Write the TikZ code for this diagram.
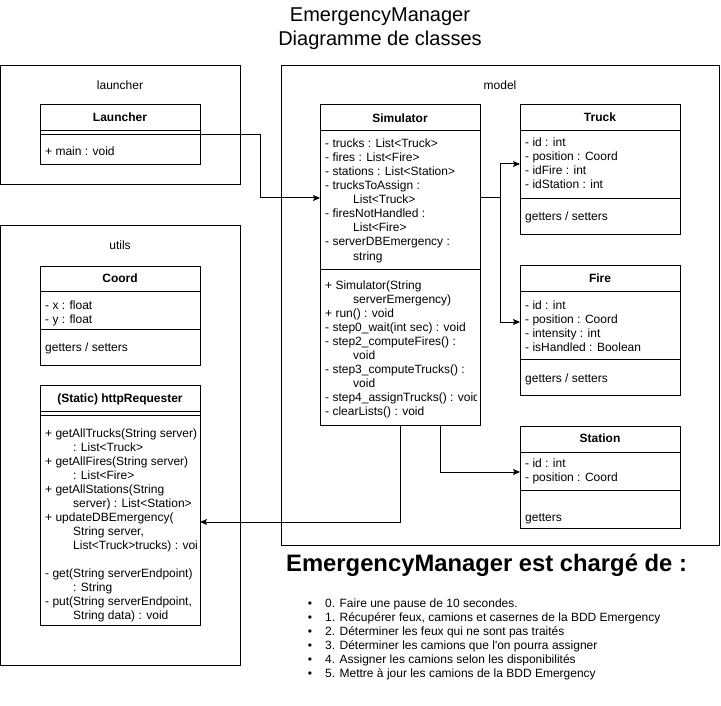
\documentclass[tikz,border=0pt]{standalone}
\usepackage{fontspec}
\setmainfont{Liberation Sans}[Ligatures=TeXOff]
\usetikzlibrary{arrows.meta}
\tikzset{
  pkg/.style={draw, line width=1pt},
  cls/.style={draw, line width=1pt, inner sep=0pt, outer sep=0pt, anchor=north west},
  sep/.style={line width=1pt},
  txt/.style={inner sep=0pt, anchor=base west, font=\fontsize{12pt}{14pt}\selectfont},
  hdr/.style={inner sep=0pt, anchor=base, font=\fontsize{12pt}{14pt}\selectfont\bfseries},
  lbl/.style={inner sep=0pt, anchor=base, font=\fontsize{12pt}{14pt}\selectfont},
  conn/.style={line width=1pt, -{Stealth[length=7pt,width=6pt,inset=1.5pt]}},
}
\newcommand{\clslines}[4]{%
  \foreach \cltxt [count=\i from 0] in {#4} {\node[txt] (#1-\i) at (#2,{#3+14*\i}) {\cltxt};}}
\newcommand{\ind}{\hspace*{28pt}}
\begin{document}
\begin{tikzpicture}[x=1pt,y=-1pt]
\useasboundingbox (0,0) rectangle (721,706);
% title
\node[inner sep=0pt, anchor=base, font=\fontsize{20pt}{24pt}\selectfont] (t1) at (380,22) {EmergencyManager};
\node[inner sep=0pt, anchor=base, font=\fontsize{20pt}{24pt}\selectfont] (t2) at (380,46) {Diagramme de classes};
% packages
\draw[pkg] (0.5,65.5) rectangle (240.5,185);
\node[lbl] (pl) at (120,90) {launcher};
\draw[pkg] (0.5,226) rectangle (240.5,665);
\node[lbl] (pu) at (120,250) {utils};
\draw[pkg] (281,65.5) rectangle (719.5,545);
\node[lbl] (pm) at (500,90) {model};
% Launcher
\node[cls, minimum width=160pt, minimum height=60pt] (launcher) at (40,105) {};
\draw[sep] (40,131) -- (200,131);
\draw[sep] (40,135) -- (200,135);
\node[hdr] (launcherh) at (120,122) {Launcher};
\clslines{la}{45}{156}{+ main : void}
% Coord
\node[cls, minimum width=160pt, minimum height=99pt] (coord) at (40,266) {};
\draw[sep] (40,291) -- (200,291);
\draw[sep] (40,329) -- (200,329);
\node[hdr] (coordh) at (120,282) {Coord};
\clslines{ca}{45}{309}{- x : float, - y : float}
\clslines{cm}{45}{351}{getters / setters}
% httpRequester
\node[cls, minimum width=160pt, minimum height=240pt] (http) at (40,385) {};
\draw[sep] (40,411) -- (200,411);
\draw[sep] (40,415) -- (200,415);
\node[hdr] (httph) at (120,402) {(Static) httpRequester};
\begin{scope}
\clip (40,385) rectangle (197.5,625);
\clslines{hm}{45}{437}{+ getAllTrucks(String server), \ind: List<Truck>, + getAllFires(String server), \ind: List<Fire>, + getAllStations(String, \ind server) : List<Station>, + updateDBEmergency(, {\ind String server,}, \ind List<Truck>trucks) : void}
\clslines{hp}{45}{577}{- get(String serverEndpoint), \ind: String, {- put(String serverEndpoint,}, \ind String data) : void}
\end{scope}
% Simulator
\node[cls, minimum width=160pt, minimum height=320pt] (sim) at (320,105) {};
\draw[sep] (320,131) -- (480,131);
\draw[sep] (320,269) -- (480,269);
\node[hdr] (simh) at (400,123) {Simulator};
\begin{scope}
\clip (320,105) rectangle (476.5,425);
\clslines{sa}{325}{148}{- trucks : List<Truck>, - fires : List<Fire>, - stations : List<Station>, - trucksToAssign :, \ind List<Truck>, - firesNotHandled :, \ind List<Fire>, - serverDBEmergency :, \ind string}
\clslines{sm}{325}{289}{+ Simulator(String, \ind serverEmergency), + run() : void, - step0\_wait(int sec) : void, - step2\_computeFires() :, \ind void, - step3\_computeTrucks() :, \ind void, - step4\_assignTrucks() : void, - clearLists() : void}
\end{scope}
% Truck
\node[cls, minimum width=160pt, minimum height=130pt] (truck) at (520,105) {};
\draw[sep] (520,131) -- (680,131);
\draw[sep] (520,199) -- (680,199);
\node[hdr] (truckh) at (600,122) {Truck};
\clslines{ta}{525}{147}{- id : int, - position : Coord, - idFire : int, - idStation : int}
\clslines{tm}{525}{221}{getters / setters}
% Fire
\node[cls, minimum width=160pt, minimum height=130pt] (fire) at (520,265) {};
\draw[sep] (520,291) -- (680,291);
\draw[sep] (520,359) -- (680,359);
\node[hdr] (fireh) at (600,282) {Fire};
\clslines{fa}{525}{309}{- id : int, - position : Coord, - intensity : int, - isHandled : Boolean}
\clslines{fm}{525}{382}{getters / setters}
% Station
\node[cls, minimum width=160pt, minimum height=102pt] (station) at (520,426) {};
\draw[sep] (520,452) -- (680,452);
\draw[sep] (520,490) -- (680,490);
\node[hdr] (stationh) at (600,442) {Station};
\clslines{sta}{525}{467}{- id : int, - position : Coord}
\clslines{stm}{525}{521}{getters}
% connectors
\draw[conn] (launcher.east) -- (260,135) |- (sim.west |- 0,198);
\draw[conn] (sim.east |- 0,198) -- (500,198) |- (truck.west |- 0,164);
\draw[conn] (sim.east |- 0,198) -- (500,198) |- (fire.west |- 0,322);
\draw[conn] (sim.south -| 440,0) |- (station.west |- 0,472);
\draw[conn] (sim.south -| 400,0) |- (http.east |- 0,522);
% responsibilities
\node[inner sep=0pt, anchor=base west, font=\fontsize{23.8pt}{28pt}\selectfont\bfseries] (heading) at (286,571) {EmergencyManager est chargé de :};
\foreach \btxt [count=\i from 0] in {0. Faire une pause de 10 secondes., {1. Récupérer feux, camions et casernes de la BDD Emergency}, 2. Déterminer les feux qui ne sont pas traités, 3. Déterminer les camions que l'on pourra assigner, 4. Assigner les camions selon les disponibilités, 5. Mettre à jour les camions de la BDD Emergency} {
  \node[lbl] (bul-\i) at (310,{607+14*\i}) {•};
  \node[txt] (item-\i) at (325,{607+14*\i}) {\btxt};
}
\end{tikzpicture}
\end{document}
